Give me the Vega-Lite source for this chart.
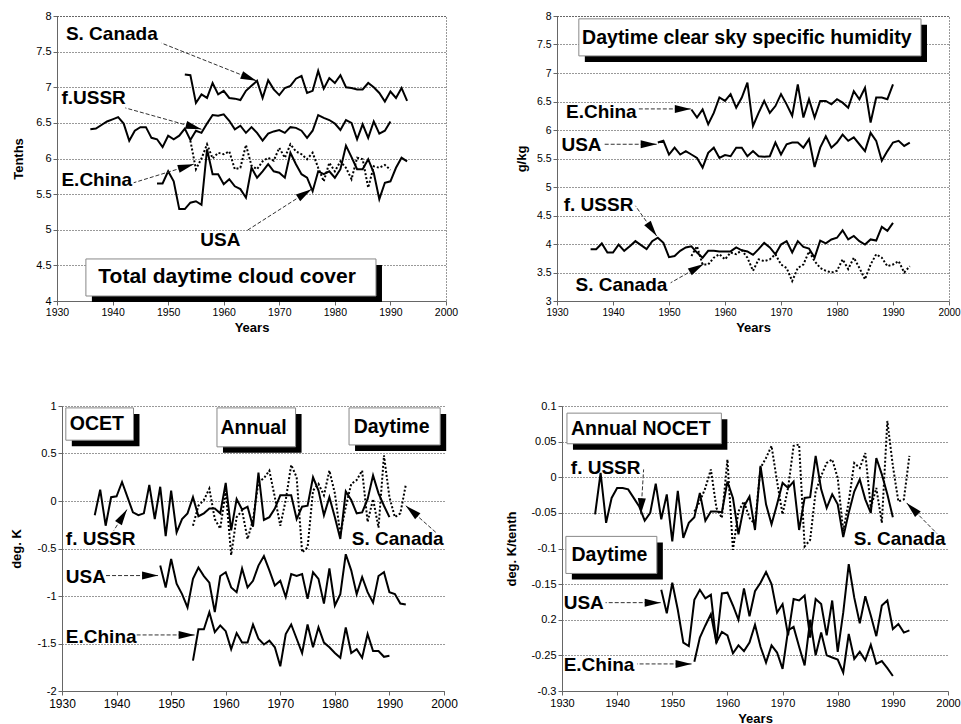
{
"$schema": "https://vega.github.io/schema/vega-lite/v6.json",
"background": "white",
"padding": {"left": 10, "top": 9, "right": 5, "bottom": 5},
"config": {
  "font": "Liberation Sans",
  "view": {"stroke": "#333", "strokeDash": [1, 2], "strokeWidth": 1},
  "axis": {"labelFont": "Liberation Sans", "labelFontSize": 11, "labelColor": "#000", "titleFont": "Liberation Sans", "titleFontSize": 13, "titleFontWeight": "bold", "titleColor": "#000", "domainColor": "#666", "tickColor": "#666", "tickSize": 4, "labelPadding": 2, "gridColor": "#333", "gridDash": [1, 2], "gridOpacity": 1},
  "axisX": {"grid": false, "labelFlush": false, "titlePadding": 4},
  "axisY": {"grid": true, "titlePadding": 0}
},
"datasets": {
"d": [
{"p":1,"s":"SC","year":1953,"value":7.18},{"p":1,"s":"SC","year":1954,"value":7.17},{"p":1,"s":"SC","year":1955,"value":6.78},{"p":1,"s":"SC","year":1956,"value":6.9},{"p":1,"s":"SC","year":1957,"value":6.85},{"p":1,"s":"SC","year":1958,"value":7.06},{"p":1,"s":"SC","year":1959,"value":6.9},{"p":1,"s":"SC","year":1960,"value":6.95},{"p":1,"s":"SC","year":1961,"value":6.85},{"p":1,"s":"SC","year":1962,"value":6.84},{"p":1,"s":"SC","year":1963,"value":6.82},{"p":1,"s":"SC","year":1964,"value":6.95},{"p":1,"s":"SC","year":1965,"value":7.02},{"p":1,"s":"SC","year":1966,"value":7.09},{"p":1,"s":"SC","year":1967,"value":6.85},{"p":1,"s":"SC","year":1968,"value":7.1},{"p":1,"s":"SC","year":1969,"value":6.97},{"p":1,"s":"SC","year":1970,"value":6.89},{"p":1,"s":"SC","year":1971,"value":6.99},{"p":1,"s":"SC","year":1972,"value":7.02},{"p":1,"s":"SC","year":1973,"value":7.12},{"p":1,"s":"SC","year":1974,"value":7.16},{"p":1,"s":"SC","year":1975,"value":6.92},{"p":1,"s":"SC","year":1976,"value":6.95},{"p":1,"s":"SC","year":1977,"value":7.23},{"p":1,"s":"SC","year":1978,"value":6.98},{"p":1,"s":"SC","year":1979,"value":7.13},{"p":1,"s":"SC","year":1980,"value":7.06},{"p":1,"s":"SC","year":1981,"value":7.17},{"p":1,"s":"SC","year":1982,"value":7.0},{"p":1,"s":"SC","year":1983,"value":6.99},{"p":1,"s":"SC","year":1984,"value":6.97},{"p":1,"s":"SC","year":1985,"value":6.97},{"p":1,"s":"SC","year":1986,"value":7.06},{"p":1,"s":"SC","year":1987,"value":7.0},{"p":1,"s":"SC","year":1988,"value":6.92},{"p":1,"s":"SC","year":1989,"value":6.8},{"p":1,"s":"SC","year":1990,"value":6.94},{"p":1,"s":"SC","year":1991,"value":6.85},{"p":1,"s":"SC","year":1992,"value":6.99},{"p":1,"s":"SC","year":1993,"value":6.81},
{"p":1,"s":"SU","year":1936,"value":6.41},{"p":1,"s":"SU","year":1937,"value":6.42},{"p":1,"s":"SU","year":1938,"value":6.47},{"p":1,"s":"SU","year":1939,"value":6.52},{"p":1,"s":"SU","year":1940,"value":6.55},{"p":1,"s":"SU","year":1941,"value":6.58},{"p":1,"s":"SU","year":1942,"value":6.49},{"p":1,"s":"SU","year":1943,"value":6.25},{"p":1,"s":"SU","year":1944,"value":6.39},{"p":1,"s":"SU","year":1945,"value":6.44},{"p":1,"s":"SU","year":1946,"value":6.44},{"p":1,"s":"SU","year":1947,"value":6.29},{"p":1,"s":"SU","year":1948,"value":6.27},{"p":1,"s":"SU","year":1949,"value":6.16},{"p":1,"s":"SU","year":1950,"value":6.32},{"p":1,"s":"SU","year":1951,"value":6.27},{"p":1,"s":"SU","year":1952,"value":6.32},{"p":1,"s":"SU","year":1953,"value":6.42},{"p":1,"s":"SU","year":1954,"value":6.26},{"p":1,"s":"SU","year":1955,"value":6.39},{"p":1,"s":"SU","year":1956,"value":6.36},{"p":1,"s":"SU","year":1957,"value":6.49},{"p":1,"s":"SU","year":1958,"value":6.61},{"p":1,"s":"SU","year":1959,"value":6.6},{"p":1,"s":"SU","year":1960,"value":6.62},{"p":1,"s":"SU","year":1961,"value":6.53},{"p":1,"s":"SU","year":1962,"value":6.41},{"p":1,"s":"SU","year":1963,"value":6.46},{"p":1,"s":"SU","year":1964,"value":6.36},{"p":1,"s":"SU","year":1965,"value":6.44},{"p":1,"s":"SU","year":1966,"value":6.36},{"p":1,"s":"SU","year":1967,"value":6.25},{"p":1,"s":"SU","year":1968,"value":6.35},{"p":1,"s":"SU","year":1969,"value":6.38},{"p":1,"s":"SU","year":1970,"value":6.4},{"p":1,"s":"SU","year":1971,"value":6.36},{"p":1,"s":"SU","year":1972,"value":6.44},{"p":1,"s":"SU","year":1973,"value":6.43},{"p":1,"s":"SU","year":1974,"value":6.39},{"p":1,"s":"SU","year":1975,"value":6.29},{"p":1,"s":"SU","year":1976,"value":6.39},{"p":1,"s":"SU","year":1977,"value":6.61},{"p":1,"s":"SU","year":1978,"value":6.57},{"p":1,"s":"SU","year":1979,"value":6.54},{"p":1,"s":"SU","year":1980,"value":6.49},{"p":1,"s":"SU","year":1981,"value":6.4},{"p":1,"s":"SU","year":1982,"value":6.54},{"p":1,"s":"SU","year":1983,"value":6.5},{"p":1,"s":"SU","year":1984,"value":6.27},{"p":1,"s":"SU","year":1985,"value":6.48},{"p":1,"s":"SU","year":1986,"value":6.29},{"p":1,"s":"SU","year":1987,"value":6.52},{"p":1,"s":"SU","year":1988,"value":6.35},{"p":1,"s":"SU","year":1989,"value":6.39},{"p":1,"s":"SU","year":1990,"value":6.52},
{"p":1,"s":"EC","year":1954,"value":6.25},{"p":1,"s":"EC","year":1955,"value":5.85},{"p":1,"s":"EC","year":1956,"value":6.0},{"p":1,"s":"EC","year":1957,"value":6.2},{"p":1,"s":"EC","year":1958,"value":6.0},{"p":1,"s":"EC","year":1959,"value":6.08},{"p":1,"s":"EC","year":1960,"value":6.06},{"p":1,"s":"EC","year":1961,"value":6.1},{"p":1,"s":"EC","year":1962,"value":5.85},{"p":1,"s":"EC","year":1963,"value":5.87},{"p":1,"s":"EC","year":1964,"value":6.19},{"p":1,"s":"EC","year":1965,"value":5.9},{"p":1,"s":"EC","year":1966,"value":5.85},{"p":1,"s":"EC","year":1967,"value":5.96},{"p":1,"s":"EC","year":1968,"value":6.01},{"p":1,"s":"EC","year":1969,"value":5.97},{"p":1,"s":"EC","year":1970,"value":6.15},{"p":1,"s":"EC","year":1971,"value":6.01},{"p":1,"s":"EC","year":1972,"value":6.2},{"p":1,"s":"EC","year":1973,"value":6.1},{"p":1,"s":"EC","year":1974,"value":6.06},{"p":1,"s":"EC","year":1975,"value":5.99},{"p":1,"s":"EC","year":1976,"value":6.08},{"p":1,"s":"EC","year":1977,"value":5.87},{"p":1,"s":"EC","year":1978,"value":5.68},{"p":1,"s":"EC","year":1979,"value":5.94},{"p":1,"s":"EC","year":1980,"value":5.82},{"p":1,"s":"EC","year":1981,"value":5.96},{"p":1,"s":"EC","year":1982,"value":5.87},{"p":1,"s":"EC","year":1983,"value":5.71},{"p":1,"s":"EC","year":1984,"value":6.01},{"p":1,"s":"EC","year":1985,"value":5.99},{"p":1,"s":"EC","year":1986,"value":5.59},{"p":1,"s":"EC","year":1987,"value":5.89},{"p":1,"s":"EC","year":1988,"value":5.87},{"p":1,"s":"EC","year":1989,"value":5.91},{"p":1,"s":"EC","year":1990,"value":5.84},
{"p":1,"s":"US","year":1948,"value":5.65},{"p":1,"s":"US","year":1949,"value":5.65},{"p":1,"s":"US","year":1950,"value":5.82},{"p":1,"s":"US","year":1951,"value":5.68},{"p":1,"s":"US","year":1952,"value":5.29},{"p":1,"s":"US","year":1953,"value":5.29},{"p":1,"s":"US","year":1954,"value":5.38},{"p":1,"s":"US","year":1955,"value":5.4},{"p":1,"s":"US","year":1956,"value":5.35},{"p":1,"s":"US","year":1957,"value":6.13},{"p":1,"s":"US","year":1958,"value":5.78},{"p":1,"s":"US","year":1959,"value":5.78},{"p":1,"s":"US","year":1960,"value":5.64},{"p":1,"s":"US","year":1961,"value":5.71},{"p":1,"s":"US","year":1962,"value":5.61},{"p":1,"s":"US","year":1963,"value":5.57},{"p":1,"s":"US","year":1964,"value":5.45},{"p":1,"s":"US","year":1965,"value":5.87},{"p":1,"s":"US","year":1966,"value":5.73},{"p":1,"s":"US","year":1967,"value":5.82},{"p":1,"s":"US","year":1968,"value":5.92},{"p":1,"s":"US","year":1969,"value":5.82},{"p":1,"s":"US","year":1970,"value":5.8},{"p":1,"s":"US","year":1971,"value":5.73},{"p":1,"s":"US","year":1972,"value":6.08},{"p":1,"s":"US","year":1973,"value":5.92},{"p":1,"s":"US","year":1974,"value":5.78},{"p":1,"s":"US","year":1975,"value":5.73},{"p":1,"s":"US","year":1976,"value":5.54},{"p":1,"s":"US","year":1977,"value":5.82},{"p":1,"s":"US","year":1978,"value":5.78},{"p":1,"s":"US","year":1979,"value":5.82},{"p":1,"s":"US","year":1980,"value":5.73},{"p":1,"s":"US","year":1981,"value":5.85},{"p":1,"s":"US","year":1982,"value":6.18},{"p":1,"s":"US","year":1983,"value":6.02},{"p":1,"s":"US","year":1984,"value":5.85},{"p":1,"s":"US","year":1985,"value":5.85},{"p":1,"s":"US","year":1986,"value":5.99},{"p":1,"s":"US","year":1987,"value":5.8},{"p":1,"s":"US","year":1988,"value":5.43},{"p":1,"s":"US","year":1989,"value":5.66},{"p":1,"s":"US","year":1990,"value":5.68},{"p":1,"s":"US","year":1991,"value":5.87},{"p":1,"s":"US","year":1992,"value":6.01},{"p":1,"s":"US","year":1993,"value":5.96},
{"p":2,"s":"EC","year":1954,"value":6.36},{"p":2,"s":"EC","year":1955,"value":6.22},{"p":2,"s":"EC","year":1956,"value":6.36},{"p":2,"s":"EC","year":1957,"value":6.1},{"p":2,"s":"EC","year":1958,"value":6.3},{"p":2,"s":"EC","year":1959,"value":6.57},{"p":2,"s":"EC","year":1960,"value":6.51},{"p":2,"s":"EC","year":1961,"value":6.63},{"p":2,"s":"EC","year":1962,"value":6.39},{"p":2,"s":"EC","year":1963,"value":6.57},{"p":2,"s":"EC","year":1964,"value":6.83},{"p":2,"s":"EC","year":1965,"value":6.07},{"p":2,"s":"EC","year":1966,"value":6.3},{"p":2,"s":"EC","year":1967,"value":6.51},{"p":2,"s":"EC","year":1968,"value":6.3},{"p":2,"s":"EC","year":1969,"value":6.42},{"p":2,"s":"EC","year":1970,"value":6.63},{"p":2,"s":"EC","year":1971,"value":6.45},{"p":2,"s":"EC","year":1972,"value":6.25},{"p":2,"s":"EC","year":1973,"value":6.8},{"p":2,"s":"EC","year":1974,"value":6.22},{"p":2,"s":"EC","year":1975,"value":6.54},{"p":2,"s":"EC","year":1976,"value":6.22},{"p":2,"s":"EC","year":1977,"value":6.51},{"p":2,"s":"EC","year":1978,"value":6.51},{"p":2,"s":"EC","year":1979,"value":6.45},{"p":2,"s":"EC","year":1980,"value":6.54},{"p":2,"s":"EC","year":1981,"value":6.48},{"p":2,"s":"EC","year":1982,"value":6.39},{"p":2,"s":"EC","year":1983,"value":6.68},{"p":2,"s":"EC","year":1984,"value":6.54},{"p":2,"s":"EC","year":1985,"value":6.74},{"p":2,"s":"EC","year":1986,"value":6.13},{"p":2,"s":"EC","year":1987,"value":6.57},{"p":2,"s":"EC","year":1988,"value":6.57},{"p":2,"s":"EC","year":1989,"value":6.54},{"p":2,"s":"EC","year":1990,"value":6.8},
{"p":2,"s":"US","year":1948,"value":5.78},{"p":2,"s":"US","year":1949,"value":5.81},{"p":2,"s":"US","year":1950,"value":5.57},{"p":2,"s":"US","year":1951,"value":5.69},{"p":2,"s":"US","year":1952,"value":5.57},{"p":2,"s":"US","year":1953,"value":5.63},{"p":2,"s":"US","year":1954,"value":5.57},{"p":2,"s":"US","year":1955,"value":5.51},{"p":2,"s":"US","year":1956,"value":5.34},{"p":2,"s":"US","year":1957,"value":5.6},{"p":2,"s":"US","year":1958,"value":5.69},{"p":2,"s":"US","year":1959,"value":5.51},{"p":2,"s":"US","year":1960,"value":5.56},{"p":2,"s":"US","year":1961,"value":5.54},{"p":2,"s":"US","year":1962,"value":5.69},{"p":2,"s":"US","year":1963,"value":5.69},{"p":2,"s":"US","year":1964,"value":5.54},{"p":2,"s":"US","year":1965,"value":5.63},{"p":2,"s":"US","year":1966,"value":5.54},{"p":2,"s":"US","year":1967,"value":5.53},{"p":2,"s":"US","year":1968,"value":5.54},{"p":2,"s":"US","year":1969,"value":5.78},{"p":2,"s":"US","year":1970,"value":5.57},{"p":2,"s":"US","year":1971,"value":5.75},{"p":2,"s":"US","year":1972,"value":5.78},{"p":2,"s":"US","year":1973,"value":5.78},{"p":2,"s":"US","year":1974,"value":5.69},{"p":2,"s":"US","year":1975,"value":5.84},{"p":2,"s":"US","year":1976,"value":5.35},{"p":2,"s":"US","year":1977,"value":5.69},{"p":2,"s":"US","year":1978,"value":5.89},{"p":2,"s":"US","year":1979,"value":5.69},{"p":2,"s":"US","year":1980,"value":5.78},{"p":2,"s":"US","year":1981,"value":5.92},{"p":2,"s":"US","year":1982,"value":5.81},{"p":2,"s":"US","year":1983,"value":5.87},{"p":2,"s":"US","year":1984,"value":5.75},{"p":2,"s":"US","year":1985,"value":5.63},{"p":2,"s":"US","year":1986,"value":5.95},{"p":2,"s":"US","year":1987,"value":5.81},{"p":2,"s":"US","year":1988,"value":5.46},{"p":2,"s":"US","year":1989,"value":5.63},{"p":2,"s":"US","year":1990,"value":5.78},{"p":2,"s":"US","year":1991,"value":5.81},{"p":2,"s":"US","year":1992,"value":5.72},{"p":2,"s":"US","year":1993,"value":5.78},
{"p":2,"s":"SU","year":1936,"value":3.91},{"p":2,"s":"SU","year":1937,"value":3.91},{"p":2,"s":"SU","year":1938,"value":4.01},{"p":2,"s":"SU","year":1939,"value":3.85},{"p":2,"s":"SU","year":1940,"value":3.85},{"p":2,"s":"SU","year":1941,"value":3.99},{"p":2,"s":"SU","year":1942,"value":3.88},{"p":2,"s":"SU","year":1943,"value":3.96},{"p":2,"s":"SU","year":1944,"value":4.05},{"p":2,"s":"SU","year":1945,"value":3.98},{"p":2,"s":"SU","year":1946,"value":3.91},{"p":2,"s":"SU","year":1947,"value":4.05},{"p":2,"s":"SU","year":1948,"value":4.11},{"p":2,"s":"SU","year":1949,"value":4.02},{"p":2,"s":"SU","year":1950,"value":3.77},{"p":2,"s":"SU","year":1951,"value":3.79},{"p":2,"s":"SU","year":1952,"value":3.88},{"p":2,"s":"SU","year":1953,"value":3.94},{"p":2,"s":"SU","year":1954,"value":3.96},{"p":2,"s":"SU","year":1955,"value":3.85},{"p":2,"s":"SU","year":1956,"value":3.76},{"p":2,"s":"SU","year":1957,"value":3.88},{"p":2,"s":"SU","year":1958,"value":3.88},{"p":2,"s":"SU","year":1959,"value":3.87},{"p":2,"s":"SU","year":1960,"value":3.87},{"p":2,"s":"SU","year":1961,"value":3.87},{"p":2,"s":"SU","year":1962,"value":3.94},{"p":2,"s":"SU","year":1963,"value":3.89},{"p":2,"s":"SU","year":1964,"value":3.87},{"p":2,"s":"SU","year":1965,"value":3.81},{"p":2,"s":"SU","year":1966,"value":3.91},{"p":2,"s":"SU","year":1967,"value":4.02},{"p":2,"s":"SU","year":1968,"value":3.94},{"p":2,"s":"SU","year":1969,"value":3.82},{"p":2,"s":"SU","year":1970,"value":3.99},{"p":2,"s":"SU","year":1971,"value":4.05},{"p":2,"s":"SU","year":1972,"value":3.85},{"p":2,"s":"SU","year":1973,"value":4.05},{"p":2,"s":"SU","year":1974,"value":3.95},{"p":2,"s":"SU","year":1975,"value":3.92},{"p":2,"s":"SU","year":1976,"value":3.76},{"p":2,"s":"SU","year":1977,"value":4.06},{"p":2,"s":"SU","year":1978,"value":4.01},{"p":2,"s":"SU","year":1979,"value":4.08},{"p":2,"s":"SU","year":1980,"value":4.11},{"p":2,"s":"SU","year":1981,"value":4.24},{"p":2,"s":"SU","year":1982,"value":4.08},{"p":2,"s":"SU","year":1983,"value":4.14},{"p":2,"s":"SU","year":1984,"value":4.05},{"p":2,"s":"SU","year":1985,"value":3.99},{"p":2,"s":"SU","year":1986,"value":4.08},{"p":2,"s":"SU","year":1987,"value":4.06},{"p":2,"s":"SU","year":1988,"value":4.3},{"p":2,"s":"SU","year":1989,"value":4.23},{"p":2,"s":"SU","year":1990,"value":4.37},
{"p":2,"s":"SC","year":1954,"value":3.79},{"p":2,"s":"SC","year":1955,"value":3.96},{"p":2,"s":"SC","year":1956,"value":3.64},{"p":2,"s":"SC","year":1957,"value":3.64},{"p":2,"s":"SC","year":1958,"value":3.76},{"p":2,"s":"SC","year":1959,"value":3.82},{"p":2,"s":"SC","year":1960,"value":3.73},{"p":2,"s":"SC","year":1961,"value":3.85},{"p":2,"s":"SC","year":1962,"value":3.82},{"p":2,"s":"SC","year":1963,"value":3.89},{"p":2,"s":"SC","year":1964,"value":3.76},{"p":2,"s":"SC","year":1965,"value":3.53},{"p":2,"s":"SC","year":1966,"value":3.73},{"p":2,"s":"SC","year":1967,"value":3.7},{"p":2,"s":"SC","year":1968,"value":3.73},{"p":2,"s":"SC","year":1969,"value":3.82},{"p":2,"s":"SC","year":1970,"value":3.64},{"p":2,"s":"SC","year":1971,"value":3.58},{"p":2,"s":"SC","year":1972,"value":3.35},{"p":2,"s":"SC","year":1973,"value":3.58},{"p":2,"s":"SC","year":1974,"value":3.64},{"p":2,"s":"SC","year":1975,"value":3.87},{"p":2,"s":"SC","year":1976,"value":3.7},{"p":2,"s":"SC","year":1977,"value":3.58},{"p":2,"s":"SC","year":1978,"value":3.53},{"p":2,"s":"SC","year":1979,"value":3.5},{"p":2,"s":"SC","year":1980,"value":3.53},{"p":2,"s":"SC","year":1981,"value":3.73},{"p":2,"s":"SC","year":1982,"value":3.56},{"p":2,"s":"SC","year":1983,"value":3.76},{"p":2,"s":"SC","year":1984,"value":3.58},{"p":2,"s":"SC","year":1985,"value":3.38},{"p":2,"s":"SC","year":1986,"value":3.64},{"p":2,"s":"SC","year":1987,"value":3.82},{"p":2,"s":"SC","year":1988,"value":3.76},{"p":2,"s":"SC","year":1989,"value":3.61},{"p":2,"s":"SC","year":1990,"value":3.64},{"p":2,"s":"SC","year":1991,"value":3.7},{"p":2,"s":"SC","year":1992,"value":3.5},{"p":2,"s":"SC","year":1993,"value":3.61},
{"p":3,"s":"SU","year":1936,"value":-0.15},{"p":3,"s":"SU","year":1937,"value":0.12},{"p":3,"s":"SU","year":1938,"value":-0.26},{"p":3,"s":"SU","year":1939,"value":0.04},{"p":3,"s":"SU","year":1940,"value":0.05},{"p":3,"s":"SU","year":1941,"value":0.2},{"p":3,"s":"SU","year":1942,"value":0.04},{"p":3,"s":"SU","year":1943,"value":-0.12},{"p":3,"s":"SU","year":1944,"value":-0.15},{"p":3,"s":"SU","year":1945,"value":-0.13},{"p":3,"s":"SU","year":1946,"value":0.17},{"p":3,"s":"SU","year":1947,"value":-0.19},{"p":3,"s":"SU","year":1948,"value":0.15},{"p":3,"s":"SU","year":1949,"value":-0.37},{"p":3,"s":"SU","year":1950,"value":0.11},{"p":3,"s":"SU","year":1951,"value":-0.33},{"p":3,"s":"SU","year":1952,"value":-0.19},{"p":3,"s":"SU","year":1953,"value":-0.13},{"p":3,"s":"SU","year":1954,"value":0.04},{"p":3,"s":"SU","year":1955,"value":-0.16},{"p":3,"s":"SU","year":1956,"value":-0.13},{"p":3,"s":"SU","year":1957,"value":-0.08},{"p":3,"s":"SU","year":1958,"value":-0.08},{"p":3,"s":"SU","year":1959,"value":-0.13},{"p":3,"s":"SU","year":1960,"value":0.19},{"p":3,"s":"SU","year":1961,"value":-0.31},{"p":3,"s":"SU","year":1962,"value":0.02},{"p":3,"s":"SU","year":1963,"value":-0.09},{"p":3,"s":"SU","year":1964,"value":-0.06},{"p":3,"s":"SU","year":1965,"value":-0.27},{"p":3,"s":"SU","year":1966,"value":0.3},{"p":3,"s":"SU","year":1967,"value":-0.2},{"p":3,"s":"SU","year":1968,"value":-0.17},{"p":3,"s":"SU","year":1969,"value":-0.08},{"p":3,"s":"SU","year":1970,"value":0.06},{"p":3,"s":"SU","year":1971,"value":0.06},{"p":3,"s":"SU","year":1972,"value":0.06},{"p":3,"s":"SU","year":1973,"value":-0.19},{"p":3,"s":"SU","year":1974,"value":-0.06},{"p":3,"s":"SU","year":1975,"value":-0.05},{"p":3,"s":"SU","year":1976,"value":0.25},{"p":3,"s":"SU","year":1977,"value":0.11},{"p":3,"s":"SU","year":1978,"value":-0.15},{"p":3,"s":"SU","year":1979,"value":0.04},{"p":3,"s":"SU","year":1980,"value":-0.17},{"p":3,"s":"SU","year":1981,"value":-0.4},{"p":3,"s":"SU","year":1982,"value":0.1},{"p":3,"s":"SU","year":1983,"value":0.01},{"p":3,"s":"SU","year":1984,"value":-0.13},{"p":3,"s":"SU","year":1985,"value":-0.12},{"p":3,"s":"SU","year":1986,"value":0.02},{"p":3,"s":"SU","year":1987,"value":0.27},{"p":3,"s":"SU","year":1988,"value":0.08},{"p":3,"s":"SU","year":1989,"value":-0.05},{"p":3,"s":"SU","year":1990,"value":-0.17},
{"p":3,"s":"SC","year":1954,"value":-0.26},{"p":3,"s":"SC","year":1955,"value":-0.05},{"p":3,"s":"SC","year":1956,"value":0.01},{"p":3,"s":"SC","year":1957,"value":0.13},{"p":3,"s":"SC","year":1958,"value":-0.19},{"p":3,"s":"SC","year":1959,"value":-0.29},{"p":3,"s":"SC","year":1960,"value":0.11},{"p":3,"s":"SC","year":1961,"value":-0.57},{"p":3,"s":"SC","year":1962,"value":-0.17},{"p":3,"s":"SC","year":1963,"value":-0.1},{"p":3,"s":"SC","year":1964,"value":-0.4},{"p":3,"s":"SC","year":1965,"value":-0.2},{"p":3,"s":"SC","year":1966,"value":0.2},{"p":3,"s":"SC","year":1967,"value":0.24},{"p":3,"s":"SC","year":1968,"value":0.32},{"p":3,"s":"SC","year":1969,"value":0.04},{"p":3,"s":"SC","year":1970,"value":-0.26},{"p":3,"s":"SC","year":1971,"value":0.01},{"p":3,"s":"SC","year":1972,"value":0.38},{"p":3,"s":"SC","year":1973,"value":0.25},{"p":3,"s":"SC","year":1974,"value":-0.54},{"p":3,"s":"SC","year":1975,"value":-0.49},{"p":3,"s":"SC","year":1976,"value":0.11},{"p":3,"s":"SC","year":1977,"value":0.18},{"p":3,"s":"SC","year":1978,"value":0.06},{"p":3,"s":"SC","year":1979,"value":0.32},{"p":3,"s":"SC","year":1980,"value":0.08},{"p":3,"s":"SC","year":1981,"value":-0.35},{"p":3,"s":"SC","year":1982,"value":-0.06},{"p":3,"s":"SC","year":1983,"value":0.18},{"p":3,"s":"SC","year":1984,"value":0.22},{"p":3,"s":"SC","year":1985,"value":0.32},{"p":3,"s":"SC","year":1986,"value":-0.22},{"p":3,"s":"SC","year":1987,"value":0.02},{"p":3,"s":"SC","year":1988,"value":-0.28},{"p":3,"s":"SC","year":1989,"value":0.48},{"p":3,"s":"SC","year":1990,"value":0.04},{"p":3,"s":"SC","year":1991,"value":-0.17},{"p":3,"s":"SC","year":1992,"value":-0.13},{"p":3,"s":"SC","year":1993,"value":0.17},
{"p":3,"s":"US","year":1948,"value":-0.68},{"p":3,"s":"US","year":1949,"value":-0.91},{"p":3,"s":"US","year":1950,"value":-0.61},{"p":3,"s":"US","year":1951,"value":-0.87},{"p":3,"s":"US","year":1952,"value":-0.98},{"p":3,"s":"US","year":1953,"value":-1.12},{"p":3,"s":"US","year":1954,"value":-0.82},{"p":3,"s":"US","year":1955,"value":-0.7},{"p":3,"s":"US","year":1956,"value":-0.79},{"p":3,"s":"US","year":1957,"value":-0.86},{"p":3,"s":"US","year":1958,"value":-1.17},{"p":3,"s":"US","year":1959,"value":-0.79},{"p":3,"s":"US","year":1960,"value":-0.75},{"p":3,"s":"US","year":1961,"value":-0.91},{"p":3,"s":"US","year":1962,"value":-0.96},{"p":3,"s":"US","year":1963,"value":-0.71},{"p":3,"s":"US","year":1964,"value":-0.91},{"p":3,"s":"US","year":1965,"value":-0.84},{"p":3,"s":"US","year":1966,"value":-0.68},{"p":3,"s":"US","year":1967,"value":-0.58},{"p":3,"s":"US","year":1968,"value":-0.73},{"p":3,"s":"US","year":1969,"value":-0.89},{"p":3,"s":"US","year":1970,"value":-0.84},{"p":3,"s":"US","year":1971,"value":-1.01},{"p":3,"s":"US","year":1972,"value":-0.77},{"p":3,"s":"US","year":1973,"value":-0.79},{"p":3,"s":"US","year":1974,"value":-0.77},{"p":3,"s":"US","year":1975,"value":-1.03},{"p":3,"s":"US","year":1976,"value":-0.75},{"p":3,"s":"US","year":1977,"value":-0.82},{"p":3,"s":"US","year":1978,"value":-1.08},{"p":3,"s":"US","year":1979,"value":-0.71},{"p":3,"s":"US","year":1980,"value":-1.1},{"p":3,"s":"US","year":1981,"value":-0.98},{"p":3,"s":"US","year":1982,"value":-0.56},{"p":3,"s":"US","year":1983,"value":-0.73},{"p":3,"s":"US","year":1984,"value":-0.98},{"p":3,"s":"US","year":1985,"value":-0.8},{"p":3,"s":"US","year":1986,"value":-0.96},{"p":3,"s":"US","year":1987,"value":-1.07},{"p":3,"s":"US","year":1988,"value":-0.79},{"p":3,"s":"US","year":1989,"value":-0.75},{"p":3,"s":"US","year":1990,"value":-0.96},{"p":3,"s":"US","year":1991,"value":-0.98},{"p":3,"s":"US","year":1992,"value":-1.08},{"p":3,"s":"US","year":1993,"value":-1.09},
{"p":3,"s":"EC","year":1954,"value":-1.68},{"p":3,"s":"EC","year":1955,"value":-1.35},{"p":3,"s":"EC","year":1956,"value":-1.35},{"p":3,"s":"EC","year":1957,"value":-1.17},{"p":3,"s":"EC","year":1958,"value":-1.38},{"p":3,"s":"EC","year":1959,"value":-1.31},{"p":3,"s":"EC","year":1960,"value":-1.37},{"p":3,"s":"EC","year":1961,"value":-1.56},{"p":3,"s":"EC","year":1962,"value":-1.39},{"p":3,"s":"EC","year":1963,"value":-1.49},{"p":3,"s":"EC","year":1964,"value":-1.49},{"p":3,"s":"EC","year":1965,"value":-1.3},{"p":3,"s":"EC","year":1966,"value":-1.45},{"p":3,"s":"EC","year":1967,"value":-1.51},{"p":3,"s":"EC","year":1968,"value":-1.47},{"p":3,"s":"EC","year":1969,"value":-1.54},{"p":3,"s":"EC","year":1970,"value":-1.74},{"p":3,"s":"EC","year":1971,"value":-1.4},{"p":3,"s":"EC","year":1972,"value":-1.3},{"p":3,"s":"EC","year":1973,"value":-1.45},{"p":3,"s":"EC","year":1974,"value":-1.6},{"p":3,"s":"EC","year":1975,"value":-1.3},{"p":3,"s":"EC","year":1976,"value":-1.54},{"p":3,"s":"EC","year":1977,"value":-1.33},{"p":3,"s":"EC","year":1978,"value":-1.49},{"p":3,"s":"EC","year":1979,"value":-1.54},{"p":3,"s":"EC","year":1980,"value":-1.6},{"p":3,"s":"EC","year":1981,"value":-1.65},{"p":3,"s":"EC","year":1982,"value":-1.33},{"p":3,"s":"EC","year":1983,"value":-1.6},{"p":3,"s":"EC","year":1984,"value":-1.56},{"p":3,"s":"EC","year":1985,"value":-1.65},{"p":3,"s":"EC","year":1986,"value":-1.4},{"p":3,"s":"EC","year":1987,"value":-1.58},{"p":3,"s":"EC","year":1988,"value":-1.58},{"p":3,"s":"EC","year":1989,"value":-1.64},{"p":3,"s":"EC","year":1990,"value":-1.63},
{"p":4,"s":"SU","year":1936,"value":-0.052},{"p":4,"s":"SU","year":1937,"value":0.006},{"p":4,"s":"SU","year":1938,"value":-0.064},{"p":4,"s":"SU","year":1939,"value":-0.029},{"p":4,"s":"SU","year":1940,"value":-0.015},{"p":4,"s":"SU","year":1941,"value":-0.015},{"p":4,"s":"SU","year":1942,"value":-0.017},{"p":4,"s":"SU","year":1943,"value":-0.029},{"p":4,"s":"SU","year":1944,"value":-0.041},{"p":4,"s":"SU","year":1945,"value":-0.061},{"p":4,"s":"SU","year":1946,"value":-0.05},{"p":4,"s":"SU","year":1947,"value":-0.009},{"p":4,"s":"SU","year":1948,"value":-0.059},{"p":4,"s":"SU","year":1949,"value":-0.024},{"p":4,"s":"SU","year":1950,"value":-0.09},{"p":4,"s":"SU","year":1951,"value":-0.019},{"p":4,"s":"SU","year":1952,"value":-0.085},{"p":4,"s":"SU","year":1953,"value":-0.064},{"p":4,"s":"SU","year":1954,"value":-0.056},{"p":4,"s":"SU","year":1955,"value":-0.022},{"p":4,"s":"SU","year":1956,"value":-0.061},{"p":4,"s":"SU","year":1957,"value":-0.048},{"p":4,"s":"SU","year":1958,"value":-0.048},{"p":4,"s":"SU","year":1959,"value":-0.049},{"p":4,"s":"SU","year":1960,"value":-0.006},{"p":4,"s":"SU","year":1961,"value":-0.029},{"p":4,"s":"SU","year":1962,"value":-0.08},{"p":4,"s":"SU","year":1963,"value":-0.041},{"p":4,"s":"SU","year":1964,"value":-0.027},{"p":4,"s":"SU","year":1965,"value":-0.074},{"p":4,"s":"SU","year":1966,"value":0.016},{"p":4,"s":"SU","year":1967,"value":-0.038},{"p":4,"s":"SU","year":1968,"value":-0.066},{"p":4,"s":"SU","year":1969,"value":-0.038},{"p":4,"s":"SU","year":1970,"value":-0.008},{"p":4,"s":"SU","year":1971,"value":-0.015},{"p":4,"s":"SU","year":1972,"value":-0.006},{"p":4,"s":"SU","year":1973,"value":-0.074},{"p":4,"s":"SU","year":1974,"value":-0.029},{"p":4,"s":"SU","year":1975,"value":-0.028},{"p":4,"s":"SU","year":1976,"value":0.03},{"p":4,"s":"SU","year":1977,"value":-0.017},{"p":4,"s":"SU","year":1978,"value":-0.043},{"p":4,"s":"SU","year":1979,"value":-0.024},{"p":4,"s":"SU","year":1980,"value":-0.038},{"p":4,"s":"SU","year":1981,"value":-0.084},{"p":4,"s":"SU","year":1982,"value":-0.05},{"p":4,"s":"SU","year":1983,"value":-0.02},{"p":4,"s":"SU","year":1984,"value":-0.003},{"p":4,"s":"SU","year":1985,"value":-0.031},{"p":4,"s":"SU","year":1986,"value":-0.05},{"p":4,"s":"SU","year":1987,"value":0.027},{"p":4,"s":"SU","year":1988,"value":0.004},{"p":4,"s":"SU","year":1989,"value":-0.024},{"p":4,"s":"SU","year":1990,"value":-0.056},
{"p":4,"s":"SC","year":1954,"value":-0.048},{"p":4,"s":"SC","year":1955,"value":-0.034},{"p":4,"s":"SC","year":1956,"value":-0.015},{"p":4,"s":"SC","year":1957,"value":0.011},{"p":4,"s":"SC","year":1958,"value":-0.043},{"p":4,"s":"SC","year":1959,"value":-0.057},{"p":4,"s":"SC","year":1960,"value":0.025},{"p":4,"s":"SC","year":1961,"value":-0.102},{"p":4,"s":"SC","year":1962,"value":-0.048},{"p":4,"s":"SC","year":1963,"value":-0.034},{"p":4,"s":"SC","year":1964,"value":-0.057},{"p":4,"s":"SC","year":1965,"value":-0.066},{"p":4,"s":"SC","year":1966,"value":0.013},{"p":4,"s":"SC","year":1967,"value":0.027},{"p":4,"s":"SC","year":1968,"value":0.044},{"p":4,"s":"SC","year":1969,"value":-0.006},{"p":4,"s":"SC","year":1970,"value":-0.052},{"p":4,"s":"SC","year":1971,"value":-0.015},{"p":4,"s":"SC","year":1972,"value":0.044},{"p":4,"s":"SC","year":1973,"value":0.046},{"p":4,"s":"SC","year":1974,"value":-0.097},{"p":4,"s":"SC","year":1975,"value":-0.088},{"p":4,"s":"SC","year":1976,"value":-0.02},{"p":4,"s":"SC","year":1977,"value":0.002},{"p":4,"s":"SC","year":1978,"value":0.02},{"p":4,"s":"SC","year":1979,"value":0.025},{"p":4,"s":"SC","year":1980,"value":-0.001},{"p":4,"s":"SC","year":1981,"value":-0.076},{"p":4,"s":"SC","year":1982,"value":-0.034},{"p":4,"s":"SC","year":1983,"value":0.02},{"p":4,"s":"SC","year":1984,"value":0.013},{"p":4,"s":"SC","year":1985,"value":0.034},{"p":4,"s":"SC","year":1986,"value":-0.043},{"p":4,"s":"SC","year":1987,"value":-0.015},{"p":4,"s":"SC","year":1988,"value":-0.064},{"p":4,"s":"SC","year":1989,"value":0.079},{"p":4,"s":"SC","year":1990,"value":0.016},{"p":4,"s":"SC","year":1991,"value":-0.034},{"p":4,"s":"SC","year":1992,"value":-0.031},{"p":4,"s":"SC","year":1993,"value":0.03},
{"p":4,"s":"US","year":1948,"value":-0.158},{"p":4,"s":"US","year":1949,"value":-0.191},{"p":4,"s":"US","year":1950,"value":-0.148},{"p":4,"s":"US","year":1951,"value":-0.186},{"p":4,"s":"US","year":1952,"value":-0.232},{"p":4,"s":"US","year":1953,"value":-0.237},{"p":4,"s":"US","year":1954,"value":-0.172},{"p":4,"s":"US","year":1955,"value":-0.158},{"p":4,"s":"US","year":1956,"value":-0.17},{"p":4,"s":"US","year":1957,"value":-0.165},{"p":4,"s":"US","year":1958,"value":-0.233},{"p":4,"s":"US","year":1959,"value":-0.163},{"p":4,"s":"US","year":1960,"value":-0.162},{"p":4,"s":"US","year":1961,"value":-0.18},{"p":4,"s":"US","year":1962,"value":-0.2},{"p":4,"s":"US","year":1963,"value":-0.156},{"p":4,"s":"US","year":1964,"value":-0.195},{"p":4,"s":"US","year":1965,"value":-0.16},{"p":4,"s":"US","year":1966,"value":-0.148},{"p":4,"s":"US","year":1967,"value":-0.133},{"p":4,"s":"US","year":1968,"value":-0.15},{"p":4,"s":"US","year":1969,"value":-0.19},{"p":4,"s":"US","year":1970,"value":-0.178},{"p":4,"s":"US","year":1971,"value":-0.222},{"p":4,"s":"US","year":1972,"value":-0.171},{"p":4,"s":"US","year":1973,"value":-0.173},{"p":4,"s":"US","year":1974,"value":-0.166},{"p":4,"s":"US","year":1975,"value":-0.225},{"p":4,"s":"US","year":1976,"value":-0.171},{"p":4,"s":"US","year":1977,"value":-0.178},{"p":4,"s":"US","year":1978,"value":-0.222},{"p":4,"s":"US","year":1979,"value":-0.173},{"p":4,"s":"US","year":1980,"value":-0.245},{"p":4,"s":"US","year":1981,"value":-0.19},{"p":4,"s":"US","year":1982,"value":-0.122},{"p":4,"s":"US","year":1983,"value":-0.169},{"p":4,"s":"US","year":1984,"value":-0.205},{"p":4,"s":"US","year":1985,"value":-0.167},{"p":4,"s":"US","year":1986,"value":-0.194},{"p":4,"s":"US","year":1987,"value":-0.223},{"p":4,"s":"US","year":1988,"value":-0.18},{"p":4,"s":"US","year":1989,"value":-0.173},{"p":4,"s":"US","year":1990,"value":-0.213},{"p":4,"s":"US","year":1991,"value":-0.206},{"p":4,"s":"US","year":1992,"value":-0.218},{"p":4,"s":"US","year":1993,"value":-0.215},
{"p":4,"s":"EC","year":1954,"value":-0.259},{"p":4,"s":"EC","year":1955,"value":-0.225},{"p":4,"s":"EC","year":1956,"value":-0.208},{"p":4,"s":"EC","year":1957,"value":-0.192},{"p":4,"s":"EC","year":1958,"value":-0.232},{"p":4,"s":"EC","year":1959,"value":-0.217},{"p":4,"s":"EC","year":1960,"value":-0.222},{"p":4,"s":"EC","year":1961,"value":-0.247},{"p":4,"s":"EC","year":1962,"value":-0.236},{"p":4,"s":"EC","year":1963,"value":-0.244},{"p":4,"s":"EC","year":1964,"value":-0.232},{"p":4,"s":"EC","year":1965,"value":-0.207},{"p":4,"s":"EC","year":1966,"value":-0.238},{"p":4,"s":"EC","year":1967,"value":-0.26},{"p":4,"s":"EC","year":1968,"value":-0.236},{"p":4,"s":"EC","year":1969,"value":-0.246},{"p":4,"s":"EC","year":1970,"value":-0.269},{"p":4,"s":"EC","year":1971,"value":-0.215},{"p":4,"s":"EC","year":1972,"value":-0.21},{"p":4,"s":"EC","year":1973,"value":-0.238},{"p":4,"s":"EC","year":1974,"value":-0.264},{"p":4,"s":"EC","year":1975,"value":-0.2},{"p":4,"s":"EC","year":1976,"value":-0.25},{"p":4,"s":"EC","year":1977,"value":-0.218},{"p":4,"s":"EC","year":1978,"value":-0.25},{"p":4,"s":"EC","year":1979,"value":-0.253},{"p":4,"s":"EC","year":1980,"value":-0.256},{"p":4,"s":"EC","year":1981,"value":-0.274},{"p":4,"s":"EC","year":1982,"value":-0.22},{"p":4,"s":"EC","year":1983,"value":-0.255},{"p":4,"s":"EC","year":1984,"value":-0.245},{"p":4,"s":"EC","year":1985,"value":-0.257},{"p":4,"s":"EC","year":1986,"value":-0.235},{"p":4,"s":"EC","year":1987,"value":-0.262},{"p":4,"s":"EC","year":1988,"value":-0.258},{"p":4,"s":"EC","year":1989,"value":-0.268},{"p":4,"s":"EC","year":1990,"value":-0.279}
],
"lab": [
{"p":1,"kind":"s","text":"S. Canada","year":1931.6,"value":7.75},
{"p":1,"kind":"s","text":"f.USSR","year":1930.8,"value":6.85},
{"p":1,"kind":"s","text":"E.China","year":1930.8,"value":5.7},
{"p":1,"kind":"s","text":"USA","year":1955.8,"value":4.86},
{"p":1,"kind":"b","text":"Total daytime cloud cover","year":1960.6,"value":4.34},
{"p":2,"kind":"s","text":"E.China","year":1931.6,"value":6.32},
{"p":2,"kind":"s","text":"USA","year":1930.8,"value":5.74},
{"p":2,"kind":"s","text":"f. USSR","year":1931.2,"value":4.68},
{"p":2,"kind":"s","text":"S. Canada","year":1933.3,"value":3.28},
{"p":2,"kind":"b","text":"Daytime clear sky specific humidity","year":1963.9,"value":7.62},
{"p":3,"kind":"s","text":"f. USSR","year":1930.7,"value":-0.405},
{"p":3,"kind":"s","text":"S. Canada","year":1983.1,"value":-0.405},
{"p":3,"kind":"s","text":"USA","year":1930.7,"value":-0.796},
{"p":3,"kind":"s","text":"E.China","year":1930.7,"value":-1.43},
{"p":3,"kind":"b","text":"OCET","year":1936.4,"value":0.815},
{"p":3,"kind":"b","text":"Annual","year":1965.1,"value":0.773},
{"p":3,"kind":"b","text":"Daytime","year":1990.4,"value":0.783},
{"p":4,"kind":"s","text":"f. USSR","year":1931.6,"value":0.0128},
{"p":4,"kind":"s","text":"S. Canada","year":1982.9,"value":-0.087},
{"p":4,"kind":"s","text":"USA","year":1930.3,"value":-0.176},
{"p":4,"kind":"s","text":"E.China","year":1930.3,"value":-0.264},
{"p":4,"kind":"b","text":"Annual NOCET","year":1944.3,"value":0.0683},
{"p":4,"kind":"b","text":"Daytime","year":1938.6,"value":-0.109}
],
"arr": [
{"p":1,"year2":1948.8,"value2":7.62,"year":1965.9,"value":7.09},
{"p":1,"year2":1942.3,"value2":6.71,"year":1956.0,"value":6.41},
{"p":1,"year2":1943.8,"value2":5.66,"year":1954.6,"value":5.92},
{"p":1,"year2":1964.0,"value2":4.98,"year":1975.8,"value":5.57},
{"p":2,"year2":1944.6,"value2":6.37,"year":1953.9,"value":6.37},
{"p":2,"year2":1938.3,"value2":5.75,"year":1947.8,"value":5.75},
{"p":2,"year2":1944.0,"value2":4.67,"year":1947.8,"value":4.14},
{"p":2,"year2":1950.3,"value2":3.32,"year":1956.2,"value":3.65},
{"p":3,"year2":1939.5,"value2":-0.31,"year":1941.9,"value":-0.09},
{"p":3,"year2":1998.5,"value2":-0.33,"year":1993.0,"value":-0.05},
{"p":3,"year2":1938.0,"value2":-0.785,"year":1947.6,"value":-0.785},
{"p":3,"year2":1943.7,"value2":-1.41,"year":1954.3,"value":-1.41},
{"p":4,"year2":1944.8,"value2":0.011,"year":1944.3,"value":-0.052},
{"p":4,"year2":1998.0,"value2":-0.079,"year":1992.5,"value":-0.036},
{"p":4,"year2":1937.9,"value2":-0.176,"year":1947.9,"value":-0.176},
{"p":4,"year2":1943.6,"value2":-0.262,"year":1953.5,"value":-0.262}
],
"box": [
{"p":1,"year":1935.2,"year2":1987.4,"value":4.59,"value2":4.07},
{"p":2,"year":1933.9,"year2":1995.0,"value":7.95,"value2":7.3},
{"p":3,"year":1930.7,"year2":1943.1,"value":0.98,"value2":0.64},
{"p":3,"year":1958.4,"year2":1972.8,"value":0.98,"value2":0.57},
{"p":3,"year":1982.6,"year2":1999.3,"value":0.98,"value2":0.59},
{"p":4,"year":1930.9,"year2":1958.9,"value":0.09,"value2":0.047},
{"p":4,"year":1930.7,"year2":1947.2,"value":-0.083,"value2":-0.135}
]
},
"columns": 2,
"spacing": {"row": 105, "column": 111},
"bounds": "flush",
"concat": [
{
 "width": 389, "height": 285,
 "encoding": {
  "x": {"field": "year", "type": "quantitative", "scale": {"domain": [1930, 2000], "nice": false, "zero": false}, "axis": {"values": [1930,1940,1950,1960,1970,1980,1990,2000], "labelExpr": "'' + datum.value", "title": "Years", "labelFontSize": 10.5}},
  "y": {"field": "value", "type": "quantitative", "scale": {"domain": [4, 8], "nice": false, "zero": false}, "axis": {"values": [4,4.5,5,5.5,6,6.5,7,7.5,8], "labelExpr": "'' + datum.value", "title": "Tenths", "minExtent": 31.5, "maxExtent": 31.5, "labelFontSize": 11}}
 },
 "layer": [
  {"data": {"name": "d"}, "transform": [{"filter": "datum.p == 1 && datum.s != 'EC'"}], "mark": {"type": "line", "color": "#000", "strokeWidth": 2}, "encoding": {"detail": {"field": "s"}}},
  {"data": {"name": "d"}, "transform": [{"filter": "datum.p == 1 && datum.s == 'EC'"}], "mark": {"type": "line", "color": "#000", "strokeWidth": 2, "strokeDash": [2, 2]}, "encoding": {}},
  {"data": {"name": "arr"}, "transform": [{"filter": "datum.p == 1"}], "mark": {"type": "rule", "color": "#333", "strokeWidth": 1, "strokeDash": [4, 2]}, "encoding": {"x2": {"field": "year2"}, "y2": {"field": "value2"}}},
  {"data": {"name": "arr"}, "transform": [{"filter": "datum.p == 1"}, {"calculate": "atan2(-(datum.value - datum.value2) * 71.25, (datum.year - datum.year2) * 5.557) * 180 / PI", "as": "ang"}], "mark": {"type": "point", "shape": "M0,0L-2,-0.5L-2,0.5Z", "filled": true, "color": "#000", "opacity": 1, "size": 256, "strokeWidth": 0}, "encoding": {"angle": {"field": "ang", "type": "quantitative", "scale": null}}},
  {"data": {"name": "lab"}, "transform": [{"filter": "datum.p == 1 && datum.kind == 's'"}], "mark": {"type": "text", "align": "left", "baseline": "middle", "font": "Liberation Sans", "fontWeight": "bold", "fontSize": 19, "color": "#000"}, "encoding": {"text": {"field": "text"}}},
  {"data": {"name": "box"}, "transform": [{"filter": "datum.p == 1"}], "mark": {"type": "rect", "color": "#000", "xOffset": 6, "x2Offset": 6, "yOffset": 6, "y2Offset": 6}, "encoding": {"x2": {"field": "year2"}, "y2": {"field": "value2"}}},
  {"data": {"name": "box"}, "transform": [{"filter": "datum.p == 1"}], "mark": {"type": "rect", "fill": "#fff", "stroke": "#888", "strokeWidth": 1}, "encoding": {"x2": {"field": "year2"}, "y2": {"field": "value2"}}},
  {"data": {"name": "lab"}, "transform": [{"filter": "datum.p == 1 && datum.kind == 'b'"}], "mark": {"type": "text", "align": "center", "baseline": "middle", "font": "Liberation Sans", "fontWeight": "bold", "fontSize": 21, "color": "#000"}, "encoding": {"text": {"field": "text"}}}
 ]
},
{
 "width": 392, "height": 285,
 "encoding": {
  "x": {"field": "year", "type": "quantitative", "scale": {"domain": [1930, 2000], "nice": false, "zero": false}, "axis": {"values": [1930,1940,1950,1960,1970,1980,1990,2000], "labelExpr": "'' + datum.value", "title": "Years", "labelFontSize": 10}},
  "y": {"field": "value", "type": "quantitative", "scale": {"domain": [3, 8], "nice": false, "zero": false}, "axis": {"values": [3,3.5,4,4.5,5,5.5,6,6.5,7,7.5,8], "labelExpr": "'' + datum.value", "title": "g/kg", "minExtent": 28.5, "maxExtent": 28.5, "labelFontSize": 10.5}}
 },
 "layer": [
  {"data": {"name": "d"}, "transform": [{"filter": "datum.p == 2 && datum.s != 'SC'"}], "mark": {"type": "line", "color": "#000", "strokeWidth": 2}, "encoding": {"detail": {"field": "s"}}},
  {"data": {"name": "d"}, "transform": [{"filter": "datum.p == 2 && datum.s == 'SC'"}], "mark": {"type": "line", "color": "#000", "strokeWidth": 2, "strokeDash": [2, 2]}, "encoding": {}},
  {"data": {"name": "arr"}, "transform": [{"filter": "datum.p == 2"}], "mark": {"type": "rule", "color": "#333", "strokeWidth": 1, "strokeDash": [4, 2]}, "encoding": {"x2": {"field": "year2"}, "y2": {"field": "value2"}}},
  {"data": {"name": "arr"}, "transform": [{"filter": "datum.p == 2"}, {"calculate": "atan2(-(datum.value - datum.value2) * 57, (datum.year - datum.year2) * 5.6) * 180 / PI", "as": "ang"}], "mark": {"type": "point", "shape": "M0,0L-2,-0.5L-2,0.5Z", "filled": true, "color": "#000", "opacity": 1, "size": 256, "strokeWidth": 0}, "encoding": {"angle": {"field": "ang", "type": "quantitative", "scale": null}}},
  {"data": {"name": "lab"}, "transform": [{"filter": "datum.p == 2 && datum.kind == 's'"}], "mark": {"type": "text", "align": "left", "baseline": "middle", "font": "Liberation Sans", "fontWeight": "bold", "fontSize": 19, "color": "#000"}, "encoding": {"text": {"field": "text"}}},
  {"data": {"name": "box"}, "transform": [{"filter": "datum.p == 2"}], "mark": {"type": "rect", "color": "#000", "xOffset": 6, "x2Offset": 6, "yOffset": 6, "y2Offset": 6}, "encoding": {"x2": {"field": "year2"}, "y2": {"field": "value2"}}},
  {"data": {"name": "box"}, "transform": [{"filter": "datum.p == 2"}], "mark": {"type": "rect", "fill": "#fff", "stroke": "#888", "strokeWidth": 1}, "encoding": {"x2": {"field": "year2"}, "y2": {"field": "value2"}}},
  {"data": {"name": "lab"}, "transform": [{"filter": "datum.p == 2 && datum.kind == 'b'"}], "mark": {"type": "text", "align": "center", "baseline": "middle", "font": "Liberation Sans", "fontWeight": "bold", "fontSize": 19.5, "color": "#000"}, "encoding": {"text": {"field": "text"}}}
 ]
},
{
 "width": 389, "height": 285,
 "view": {"stroke": null},
 "encoding": {
  "x": {"field": "year", "type": "quantitative", "scale": {"domain": [1930, 2000], "nice": false, "zero": false, "rangeMin": 5, "rangeMax": 387}, "axis": {"values": [1930,1940,1950,1960,1970,1980,1990,2000], "labelExpr": "'' + datum.value", "title": null, "labelFontSize": 12, "labelPadding": 3}},
  "y": {"field": "value", "type": "quantitative", "scale": {"domain": [-2, 1], "nice": false, "zero": false}, "axis": {"values": [-2,-1.5,-1,-0.5,0,0.5,1], "labelExpr": "'' + datum.value", "title": "deg. K", "offset": -5, "minExtent": 38.5, "maxExtent": 38.5, "labelFontSize": 11}}
 },
 "layer": [
  {"data": {"values": [{}]}, "mark": {"type": "rule", "color": "#333", "strokeWidth": 1, "strokeDash": [1, 2]}, "encoding": {"x": {"datum": 2000}, "y": {"datum": -2}, "y2": {"datum": 1}}},
  {"data": {"name": "d"}, "transform": [{"filter": "datum.p == 3 && datum.s != 'SC'"}], "mark": {"type": "line", "color": "#000", "strokeWidth": 2}, "encoding": {"detail": {"field": "s"}}},
  {"data": {"name": "d"}, "transform": [{"filter": "datum.p == 3 && datum.s == 'SC'"}], "mark": {"type": "line", "color": "#000", "strokeWidth": 2, "strokeDash": [2, 2]}, "encoding": {}},
  {"data": {"name": "arr"}, "transform": [{"filter": "datum.p == 3"}], "mark": {"type": "rule", "color": "#333", "strokeWidth": 1, "strokeDash": [4, 2]}, "encoding": {"x2": {"field": "year2"}, "y2": {"field": "value2"}}},
  {"data": {"name": "arr"}, "transform": [{"filter": "datum.p == 3"}, {"calculate": "atan2(-(datum.value - datum.value2) * 95, (datum.year - datum.year2) * 5.457) * 180 / PI", "as": "ang"}], "mark": {"type": "point", "shape": "M0,0L-2,-0.5L-2,0.5Z", "filled": true, "color": "#000", "opacity": 1, "size": 256, "strokeWidth": 0}, "encoding": {"angle": {"field": "ang", "type": "quantitative", "scale": null}}},
  {"data": {"name": "lab"}, "transform": [{"filter": "datum.p == 3 && datum.kind == 's'"}], "mark": {"type": "text", "align": "left", "baseline": "middle", "font": "Liberation Sans", "fontWeight": "bold", "fontSize": 19, "color": "#000"}, "encoding": {"text": {"field": "text"}}},
  {"data": {"name": "box"}, "transform": [{"filter": "datum.p == 3"}], "mark": {"type": "rect", "color": "#000", "xOffset": 6, "x2Offset": 6, "yOffset": 6, "y2Offset": 6}, "encoding": {"x2": {"field": "year2"}, "y2": {"field": "value2"}}},
  {"data": {"name": "box"}, "transform": [{"filter": "datum.p == 3"}], "mark": {"type": "rect", "fill": "#fff", "stroke": "#888", "strokeWidth": 1}, "encoding": {"x2": {"field": "year2"}, "y2": {"field": "value2"}}},
  {"data": {"name": "lab"}, "transform": [{"filter": "datum.p == 3 && datum.kind == 'b'"}], "mark": {"type": "text", "align": "center", "baseline": "middle", "font": "Liberation Sans", "fontWeight": "bold", "fontSize": 19.5, "color": "#000"}, "encoding": {"text": {"field": "text"}}}
 ]
},
{
 "width": 392, "height": 285,
 "view": {"stroke": null},
 "encoding": {
  "x": {"field": "year", "type": "quantitative", "scale": {"domain": [1930, 2000], "nice": false, "zero": false, "rangeMin": 5, "rangeMax": 391}, "axis": {"values": [1930,1940,1950,1960,1970,1980,1990,2000], "labelExpr": "'' + datum.value", "title": "Years", "labelFontSize": 11}},
  "y": {"field": "value", "type": "quantitative", "scale": {"domain": [-0.3, 0.1], "nice": false, "zero": false}, "axis": {"values": [-0.3,-0.25,-0.2,-0.15,-0.1,-0.05,0,0.05,0.1], "labelExpr": "datum.value == -0.2 ? '0.2' : '' + datum.value", "title": "deg. K/tenth", "offset": -5, "minExtent": 43.5, "maxExtent": 43.5, "labelFontSize": 11}}
 },
 "layer": [
  {"data": {"values": [{}]}, "mark": {"type": "rule", "color": "#333", "strokeWidth": 1, "strokeDash": [1, 2]}, "encoding": {"x": {"datum": 2000}, "y": {"datum": -0.3}, "y2": {"datum": 0.1}}},
  {"data": {"name": "d"}, "transform": [{"filter": "datum.p == 4 && datum.s != 'SC'"}], "mark": {"type": "line", "color": "#000", "strokeWidth": 2}, "encoding": {"detail": {"field": "s"}}},
  {"data": {"name": "d"}, "transform": [{"filter": "datum.p == 4 && datum.s == 'SC'"}], "mark": {"type": "line", "color": "#000", "strokeWidth": 2, "strokeDash": [2, 2]}, "encoding": {}},
  {"data": {"name": "arr"}, "transform": [{"filter": "datum.p == 4"}], "mark": {"type": "rule", "color": "#333", "strokeWidth": 1, "strokeDash": [4, 2]}, "encoding": {"x2": {"field": "year2"}, "y2": {"field": "value2"}}},
  {"data": {"name": "arr"}, "transform": [{"filter": "datum.p == 4"}, {"calculate": "atan2(-(datum.value - datum.value2) * 712.5, (datum.year - datum.year2) * 5.514) * 180 / PI", "as": "ang"}], "mark": {"type": "point", "shape": "M0,0L-2,-0.5L-2,0.5Z", "filled": true, "color": "#000", "opacity": 1, "size": 256, "strokeWidth": 0}, "encoding": {"angle": {"field": "ang", "type": "quantitative", "scale": null}}},
  {"data": {"name": "lab"}, "transform": [{"filter": "datum.p == 4 && datum.kind == 's'"}], "mark": {"type": "text", "align": "left", "baseline": "middle", "font": "Liberation Sans", "fontWeight": "bold", "fontSize": 19, "color": "#000"}, "encoding": {"text": {"field": "text"}}},
  {"data": {"name": "box"}, "transform": [{"filter": "datum.p == 4"}], "mark": {"type": "rect", "color": "#000", "xOffset": 6, "x2Offset": 6, "yOffset": 6, "y2Offset": 6}, "encoding": {"x2": {"field": "year2"}, "y2": {"field": "value2"}}},
  {"data": {"name": "box"}, "transform": [{"filter": "datum.p == 4"}], "mark": {"type": "rect", "fill": "#fff", "stroke": "#888", "strokeWidth": 1}, "encoding": {"x2": {"field": "year2"}, "y2": {"field": "value2"}}},
  {"data": {"name": "lab"}, "transform": [{"filter": "datum.p == 4 && datum.kind == 'b'"}], "mark": {"type": "text", "align": "center", "baseline": "middle", "font": "Liberation Sans", "fontWeight": "bold", "fontSize": 19.5, "color": "#000"}, "encoding": {"text": {"field": "text"}}}
 ]
}
]
}
